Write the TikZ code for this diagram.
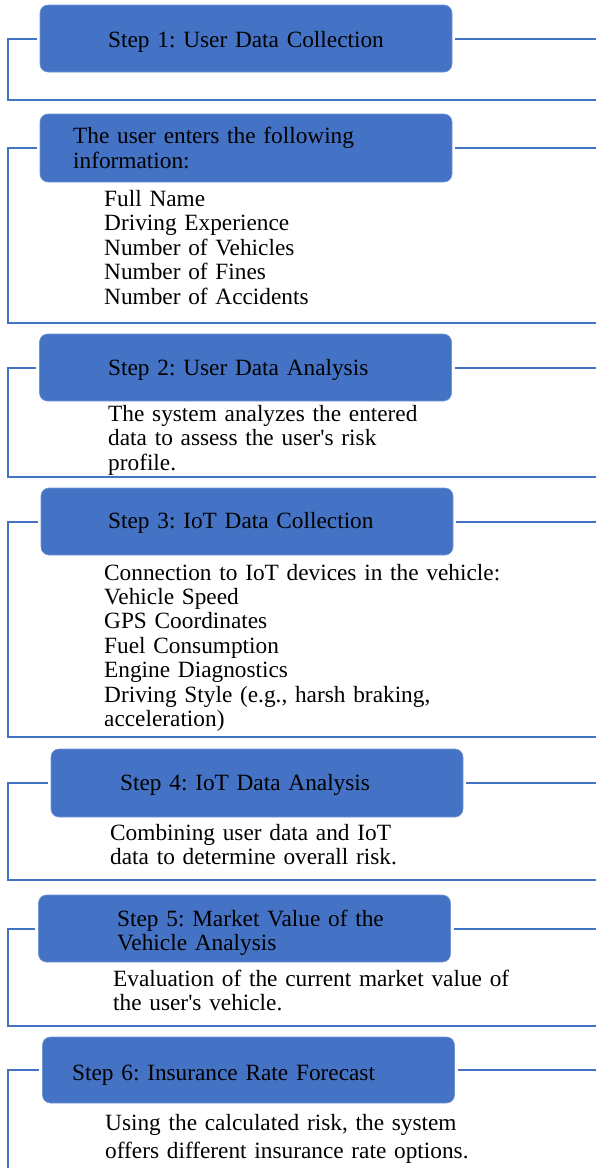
\documentclass[tikz,border=0pt]{standalone}
\usepackage{fontspec}
\setmainfont{Liberation Serif}
\usepackage{tikz}
\usetikzlibrary{calc,positioning}
\frenchspacing
\definecolor{stepblue}{HTML}{4472C4}
\tikzstyle{stepbox}  = [rectangle, rounded corners=8pt, fill=stepblue, draw=stepblue!75!white, line width=0.6pt, minimum width=412pt, minimum height=67pt, inner sep=0pt]
\tikzstyle{head}     = [anchor=base west, inner sep=0pt, text width=340pt, align=left, font=\fontsize{23.3}{24.8}\selectfont]
\tikzstyle{body}     = [anchor=base west, inner sep=0pt, text width=430pt, align=left, font=\fontsize{23.3}{24.4}\selectfont]
\tikzstyle{link}     = [stepblue, line width=2pt]

\begin{document}
\begin{tikzpicture}[x=1pt,y=-1pt]
        \useasboundingbox (0,0) rectangle (596,1168);

        \node[stepbox] (box1) at (246,38.5) {};
        \node[stepbox, minimum height=68pt] (box2) at (246,148) {};
        \node[stepbox] (box3) at (245.5,367.5) {};
        \node[stepbox] (box4) at (247,521.5) {};
        \node[stepbox, minimum height=68pt] (box5) at (257,783) {};
        \node[stepbox] (box6) at (244.5,928.5) {};
        \node[stepbox, minimum height=66pt] (box7) at (248.5,1070) {};

        \node[head] (head1) at (108,47) {Step 1: User Data Collection};
        \node[head] (head2) at (73,143.5) {The user enters the following\\information:};
        \node[head] (head3) at (108,375.5) {Step 2: User Data Analysis};
        \node[head] (head4) at (108,528) {Step 3: IoT Data Collection};
        \node[head] (head5) at (120,790) {Step 4: IoT Data Analysis};
        \node[head] (head6) at (117,926) {Step 5: Market Value of the\\Vehicle Analysis};
        \node[head] (head7) at (72,1080) {Step 6: Insurance Rate Forecast};

        \node[body] (body2) at (104,206.5) {Full Name\\Driving Experience\\Number of Vehicles\\Number of Fines\\Number of Accidents};
        \node[body] (body3) at (108,421.5) {The system analyzes the entered\\data to assess the user\textquotesingle s risk\\profile.};
        \node[body] (body4) at (104,580) {Connection to IoT devices in the vehicle:\\Vehicle Speed\\GPS Coordinates\\Fuel Consumption\\Engine Diagnostics\\Driving Style (e.g., harsh braking,\\acceleration)};
        \node[body] (body5) at (110,840) {Combining user data and IoT\\data to determine overall risk.};
        \node[body] (body6) at (113,986) {Evaluation of the current market value of\\the user\textquotesingle s vehicle.};
        \node[body, font=\fontsize{23.3}{28}\selectfont] (body7) at (105,1130) {Using the calculated risk, the system\\offers different insurance rate options.};

        \coordinate (corner1) at (8,99.5);
        \coordinate (corner2) at (8,323);
        \coordinate (corner3) at (8,476.5);
        \coordinate (corner4) at (8,737);
        \coordinate (corner5) at (8,880);
        \coordinate (corner6) at (8,1026);
        \coordinate (corner7) at (8,1168);
        \coordinate (edge) at (596,0);

        \draw[link] ([xshift=-3pt]box1.west) -| (corner1) -- (corner1 -| edge);
        \draw[link] ([xshift=-3pt]box2.west) -| (corner2) -- (corner2 -| edge);
        \draw[link] ([xshift=-3pt]box3.west) -| (corner3) -- (corner3 -| edge);
        \draw[link] ([xshift=-3pt]box4.west) -| (corner4) -- (corner4 -| edge);
        \draw[link] ([xshift=-3pt]box5.west) -| (corner5) -- (corner5 -| edge);
        \draw[link] ([xshift=-3pt]box6.west) -| (corner6) -- (corner6 -| edge);
        \draw[link] ([xshift=-3pt]box7.west) -| (corner7);

        \draw[link] ([xshift=3pt]box1.east) -- (box1.east -| edge);
        \draw[link] ([xshift=3pt]box2.east) -- (box2.east -| edge);
        \draw[link] ([xshift=3pt]box3.east) -- (box3.east -| edge);
        \draw[link] ([xshift=3pt]box4.east) -- (box4.east -| edge);
        \draw[link] ([xshift=3pt]box5.east) -- (box5.east -| edge);
        \draw[link] ([xshift=3pt]box6.east) -- (box6.east -| edge);
        \draw[link] ([xshift=3pt]box7.east) -- (box7.east -| edge);
    \end{tikzpicture}
\end{document}
